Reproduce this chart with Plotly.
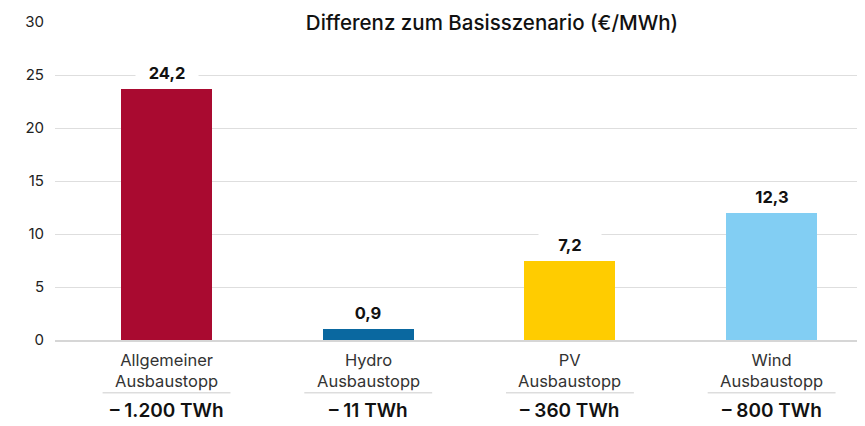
import plotly.graph_objects as go

categories_line1 = ["Allgemeiner", "Hydro", "PV", "Wind"]
categories_line2 = ["Ausbaustopp", "Ausbaustopp", "Ausbaustopp", "Ausbaustopp"]
volumes = ["– 1.200 TWh", "– 11 TWh", "– 360 TWh", "– 800 TWh"]
bar_values = [23.65, 1.04, 7.45, 11.95]
value_labels = ["24,2", "0,9", "7,2", "12,3"]
bar_colors = ["#A90A30", "#0A68A0", "#FFCC00", "#82CEF3"]
title_text = "Differenz zum Basisszenario (€/MWh)"

FONT = "Inter"
x_pos = list(range(len(categories_line1)))
x_range = [-0.553, 3.463]
PLOT_H = 318.0

fig = go.Figure()
fig.add_trace(go.Bar(
    x=x_pos, y=bar_values, width=0.451,
    marker=dict(color=bar_colors, line=dict(width=0)),
    hoverinfo="skip", showlegend=False,
))

annotations = []
shapes = []
# chart title over top gridline
annotations.append(dict(
    text=title_text, xref="paper", yref="paper", x=0.5395, y=1,
    xanchor="center", yanchor="middle", showarrow=False,
    font=dict(family=FONT, size=20.5, color="#111111", weight=500),
    bgcolor="white", width=408, height=26,
))
for i in x_pos:
    annotations.append(dict(
        text="<b>%s</b>" % value_labels[i], xref="x", yref="y", x=i, y=bar_values[i],
        yshift=16, xanchor="center", yanchor="middle", showarrow=False,
        font=dict(family=FONT, size=16.5, color="#111111"),
        bgcolor="white", width=60, height=20,
    ))
    annotations.append(dict(
        text="%s<br>%s" % (categories_line1[i], categories_line2[i]),
        xref="x", yref="paper", x=i, y=0, yshift=-30.5,
        xanchor="center", yanchor="middle", showarrow=False, align="center",
        font=dict(family=FONT, size=16.5, color="#333333"),
    ))
    annotations.append(dict(
        text=volumes[i], xref="x", yref="paper", x=i, y=0, yshift=-70.7,
        xanchor="center", yanchor="middle", showarrow=False,
        font=dict(family=FONT, size=19, color="#111111", weight=600),
    ))
    x0 = (i - 0.317 - x_range[0]) / (x_range[1] - x_range[0])
    x1 = (i + 0.317 - x_range[0]) / (x_range[1] - x_range[0])
    yp = -52.7 / PLOT_H
    shapes.append(dict(type="line", xref="paper", yref="paper", x0=x0, x1=x1, y0=yp, y1=yp,
                       line=dict(color="#dddddd", width=1.5)))

fig.update_layout(
    width=857, height=418,
    margin=dict(l=47, r=0, t=14, b=86),
    paper_bgcolor="white", plot_bgcolor="white",
    font=dict(family=FONT, color="#222222"),
    annotations=annotations, shapes=shapes,
    xaxis=dict(range=x_range, showticklabels=False, showgrid=False, zeroline=False,
               showline=True, linecolor="#d6d6d6", linewidth=2, fixedrange=True),
    yaxis=dict(range=[0, 30], dtick=5, showgrid=True, gridcolor="#dedede", gridwidth=1,
               zeroline=False, showline=False, ticklabelstandoff=10,
               tickfont=dict(family=FONT, size=15, color="#222222"), fixedrange=True),
    bargap=0,
)
fig.write_html("out.html")
